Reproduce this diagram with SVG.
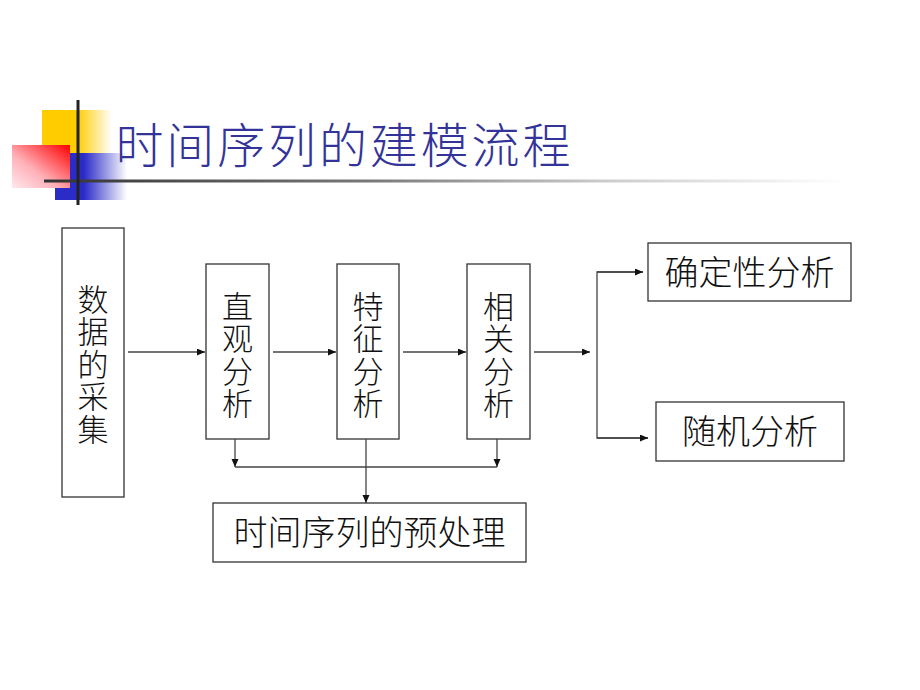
<svg xmlns="http://www.w3.org/2000/svg" width="920" height="690" viewBox="0 0 920 690">
<style>
.box{fill:#fff;stroke:#333;stroke-width:1.3}
.t{font-family:"Noto Sans CJK SC","Noto Sans CJK TC",sans-serif;font-weight:300;fill:#111;text-anchor:middle}
.v{font-size:31px}
.h{font-size:34px}
.c{fill:none;stroke:#444;stroke-width:1.3}
</style>
<defs>
<linearGradient id="gy" x1="0" y1="0" x2="1" y2="0"><stop offset="0" stop-color="#FFCC00"/><stop offset="0.5" stop-color="#FFCC00"/><stop offset="1" stop-color="#fff"/></linearGradient>
<linearGradient id="gb" x1="0" y1="0" x2="1" y2="0"><stop offset="0" stop-color="#2B2BC8"/><stop offset="0.4" stop-color="#2B2BC8"/><stop offset="1" stop-color="#fff"/></linearGradient>
<linearGradient id="gr" x1="1" y1="0" x2="0" y2="1"><stop offset="0" stop-color="#FF0000"/><stop offset="0.6" stop-color="#FFB0B8"/><stop offset="1" stop-color="#FFE8EC"/></linearGradient>
<linearGradient id="gl" x1="0" y1="0" x2="1" y2="0"><stop offset="0" stop-color="#333"/><stop offset="0.4" stop-color="#777"/><stop offset="0.7" stop-color="#ccc"/><stop offset="1" stop-color="#fff"/></linearGradient>
<marker id="ah" markerUnits="userSpaceOnUse" markerWidth="9" markerHeight="8" refX="8" refY="3.5" orient="auto"><path d="M0,0 L8,3.5 L0,7 z" fill="#111"/></marker>
</defs>

<g id="decor">
<rect x="42" y="110" width="70" height="43" fill="url(#gy)"/>
<rect x="55" y="153" width="72" height="47" fill="url(#gb)"/>
<rect x="12" y="145" width="58" height="43" fill="url(#gr)"/>
<rect x="44" y="179.5" width="802" height="3" fill="url(#gl)"/>
<rect x="76.5" y="100" width="3" height="105" fill="#222"/>
</g>

<g id="title"><text x="343" y="163" font-family="Noto Sans CJK SC, sans-serif" font-weight="300" font-size="48" fill="#333399" text-anchor="middle" textLength="455" lengthAdjust="spacing">时间序列的建模流程</text></g>

<g id="n-collect">
<rect class="box" x="62" y="228" width="62" height="269"/>
<text class="t v" x="93"><tspan x="93" y="311">数</tspan><tspan x="93" y="343">据</tspan><tspan x="93" y="376">的</tspan><tspan x="93" y="408">采</tspan><tspan x="93" y="441">集</tspan></text>
</g>
<g id="n-visual">
<rect class="box" x="206" y="264" width="63" height="175"/>
<text class="t v"><tspan x="237.5" y="318">直</tspan><tspan x="237.5" y="350">观</tspan><tspan x="237.5" y="383">分</tspan><tspan x="237.5" y="415">析</tspan></text>
</g>
<g id="n-feature">
<rect class="box" x="337" y="264" width="62" height="175"/>
<text class="t v"><tspan x="368" y="318">特</tspan><tspan x="368" y="350">征</tspan><tspan x="368" y="383">分</tspan><tspan x="368" y="415">析</tspan></text>
</g>
<g id="n-corr">
<rect class="box" x="467" y="264" width="63" height="175"/>
<text class="t v"><tspan x="498.5" y="318">相</tspan><tspan x="498.5" y="350">关</tspan><tspan x="498.5" y="383">分</tspan><tspan x="498.5" y="415">析</tspan></text>
</g>
<g id="n-determ">
<rect class="box" x="648" y="243" width="203" height="58"/>
<text class="t h" x="749.5" y="285">确定性分析</text>
</g>
<g id="n-random">
<rect class="box" x="656" y="402" width="188" height="59"/>
<text class="t h" x="750" y="444">随机分析</text>
</g>
<g id="n-preproc">
<rect class="box" x="213" y="503" width="313" height="59"/>
<text class="t h" x="369.5" y="545">时间序列的预处理</text>
</g>

<g id="connectors">
<path class="c" d="M128,352 H205" marker-end="url(#ah)"/>
<path class="c" d="M273,352 H336" marker-end="url(#ah)"/>
<path class="c" d="M403,352 H466" marker-end="url(#ah)"/>
<path class="c" d="M534,352 H590" marker-end="url(#ah)"/>
<path class="c" d="M643,272 H597 V438 H648" />
<path class="c" d="M597,272 H643" marker-end="url(#ah)"/>
<path class="c" d="M597,438 H648" marker-end="url(#ah)"/>
<path class="c" d="M235,439 V467" marker-end="url(#ah)"/>
<path class="c" d="M497,439 V467" marker-end="url(#ah)"/>
<path class="c" d="M235,467 H497"/>
<path class="c" d="M366,439 V503" marker-end="url(#ah)"/>
</g>
</svg>
